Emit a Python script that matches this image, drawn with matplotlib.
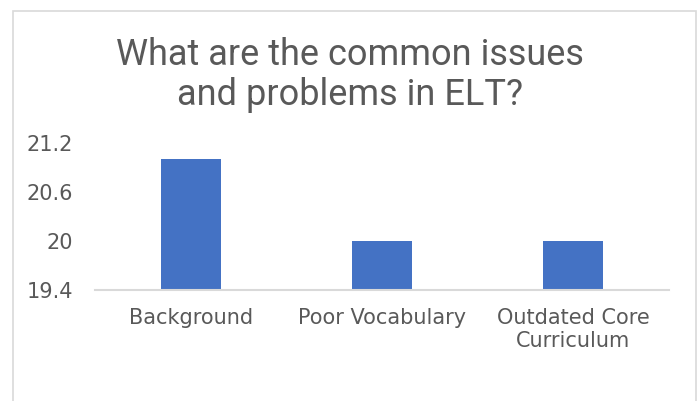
import matplotlib
matplotlib.use("Agg")
import matplotlib.pyplot as plt
from matplotlib.patches import Rectangle

categories = ["Background", "Poor Vocabulary", "Outdated Core\nCurriculum"]
values = [21.0, 20.0, 20.0]
yticks = [19.4, 20.0, 20.6, 21.2]
ytick_labels = ["19.4", "20", "20.6", "21.2"]
title = "What are the common issues\nand problems in ELT?"

W, H = 700, 401
fig = plt.figure(figsize=(7.0, 4.01), dpi=100)
fig.patch.set_facecolor('white')

# chart frame
fig.add_artist(Rectangle((13 / W, -0.05), (696 - 13) / W, 1.05 - 11 / H,
                         transform=fig.transFigure, fill=False,
                         edgecolor='#d9d9d9', linewidth=1.2))

ax = fig.add_axes([95 / W, 1 - 290 / H, (669 - 95) / W, (290 - 143) / H])
x = range(len(categories))
ax.bar(x, values, width=0.314, color='#4472c4', zorder=2)
ax.set_xlim(-0.5, len(categories) - 0.5)
ax.set_ylim(19.4, 21.2)
ax.set_yticks(yticks)
ax.set_yticklabels(ytick_labels, family=['DejaVu Sans'])
ax.set_xticks(list(x))
ax.set_xticklabels(categories, family=['DejaVu Sans'])
for s in ['top', 'right', 'left']:
    ax.spines[s].set_visible(False)
ax.spines['bottom'].set_color('#d9d9d9')
ax.spines['bottom'].set_linewidth(1.5)
ax.tick_params(axis='both', length=0, colors='#595959', labelsize=15)
ax.tick_params(axis='y', pad=16)
ax.tick_params(axis='x', pad=13)
for lbl in ax.get_xticklabels():
    lbl.set_linespacing(1.2)

fig.text(0.5, 1 - 37 / H, title, ha='center', va='top', fontsize=26,
         color='#595959', linespacing=1.15, family=['Roboto', 'DejaVu Sans'])

fig.savefig("out.png", dpi=100, facecolor='white')
